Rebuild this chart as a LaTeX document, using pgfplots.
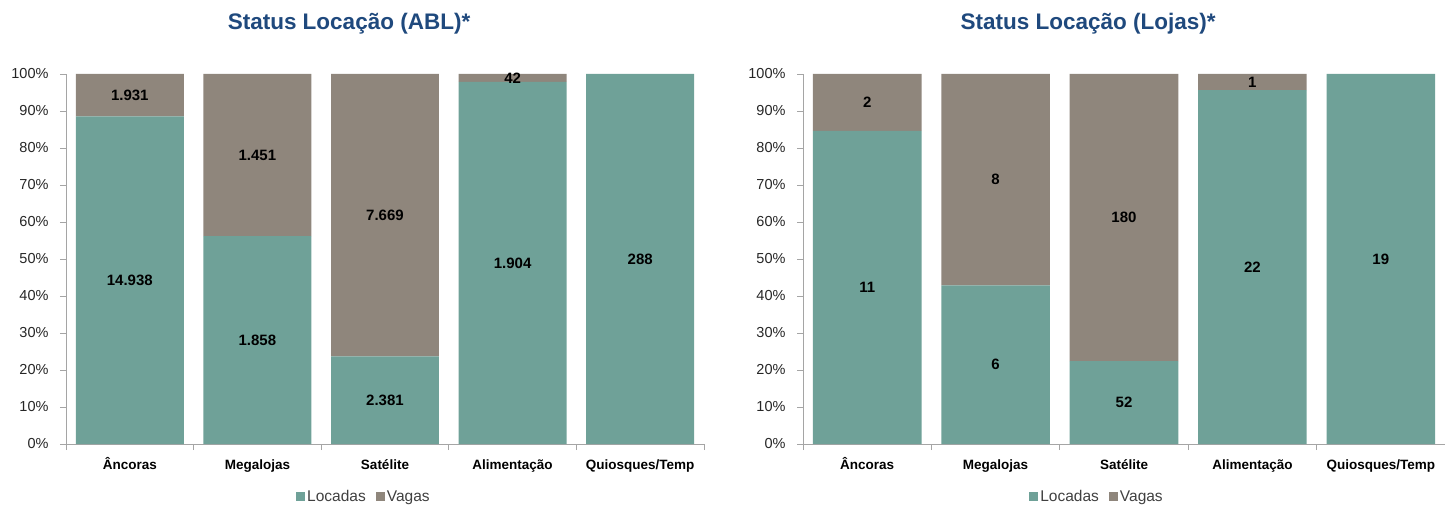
\documentclass[border=0pt]{standalone}
\usepackage{pgfplots}
\pgfplotsset{compat=1.18}
\usepackage{fontspec}
\setmainfont{Liberation Sans}
\definecolor{loc}{RGB}{111,161,152}
\definecolor{vag}{RGB}{143,134,124}
\definecolor{ttl}{RGB}{31,73,125}
\definecolor{axg}{RGB}{165,165,165}
\pgfplotsset{
 mystyle/.style={
  scale only axis, width=#1, height=370pt,
  ybar stacked, bar width=0.846,
  xmin=-0.5, xmax=4.5, ymin=0, ymax=100,
  axis x line*=bottom, axis y line*=left,
  axis line style={axg, line width=0.9pt},
  xtick={0,1,2,3,4},
  xticklabels={Âncoras,Megalojas,Satélite,Alimentação,Quiosques/Temp},
  major x tick style={draw=none},
  minor xtick={-0.5,0.5,1.5,2.5,3.5,4.5},
  minor x tick style={axg, line width=0.9pt},
  minor tick length=6pt,
  major tick length=6pt,
  tick align=outside,
  ytick={0,10,...,100},
  yticklabels={0\%,10\%,20\%,30\%,40\%,50\%,60\%,70\%,80\%,90\%,100\%},
  y tick style={axg, line width=0.9pt},
  yticklabel style={font=\fontsize{14.5}{17}\selectfont, text=black!85, xshift=-8pt},
  xticklabel style={font=\bfseries\fontsize{13.5}{16}\selectfont, text=black, anchor=base, yshift=-19pt},
  nodes near coords, point meta=explicit symbolic,
  every node near coord/.append style={font=\bfseries\fontsize{15}{18}\selectfont, text=black, anchor=center},
  title style={font=\bfseries\fontsize{22.5}{26}\selectfont, text=ttl, anchor=center, yshift=44pt},
  legend style={draw=none, legend columns=2, font=\fontsize{15.5}{18}\selectfont, text=black!75, anchor=center,
    /tikz/every even column/.append style={column sep=8pt}},
 }
}
\begin{document}
\begin{tikzpicture}
\useasboundingbox (0,0) rectangle (1445pt,506pt);
\begin{axis}[mystyle=638pt, at={(66pt,62pt)}, anchor=south west,
  title={Status Locação (ABL)*}, title style={at={(0.4436,1)}},
  legend style={at={(0.467,-0.143)}}]
\addplot[fill=loc, draw=none, legend image code/.code={\fill[loc] (0pt,-4.5pt) rectangle (9pt,4.5pt);}] coordinates {
 (0,88.55) [14.938] (1,56.15) [1.858] (2,23.69) [2.381] (3,97.84) [1.904] (4,100) [288]};
\addplot[fill=vag, draw=none, legend image code/.code={\fill[vag] (0pt,-4.5pt) rectangle (9pt,4.5pt);}] coordinates {
 (0,11.45) [1.931] (1,43.85) [1.451] (2,76.31) [7.669] (3,2.16) [42]};
\legend{Locadas,Vagas}
\end{axis}
\begin{axis}[mystyle=642pt, at={(803pt,62pt)}, anchor=south west,
  title={Status Locação (Lojas)*}, title style={at={(0.444,1)}},
  legend style={at={(0.458,-0.143)}}]
\addplot[fill=loc, draw=none, legend image code/.code={\fill[loc] (0pt,-4.5pt) rectangle (9pt,4.5pt);}] coordinates {
 (0,84.62) [11] (1,42.86) [6] (2,22.41) [52] (3,95.65) [22] (4,100) [19]};
\addplot[fill=vag, draw=none, legend image code/.code={\fill[vag] (0pt,-4.5pt) rectangle (9pt,4.5pt);}] coordinates {
 (0,15.38) [2] (1,57.14) [8] (2,77.59) [180] (3,4.35) [1]};
\legend{Locadas,Vagas}
\end{axis}
\end{tikzpicture}
\end{document}
